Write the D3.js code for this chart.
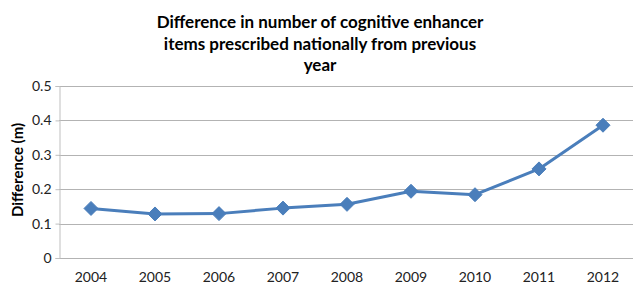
<!DOCTYPE html>
<html>
<head>
<meta charset="utf-8">
<script src="https://cdn.jsdelivr.net/npm/d3@7"></script>
<style>
  body { margin: 0; background: #fff; }
  svg { display: block; font-family: Lato, "Open Sans", sans-serif; }
</style>
</head>
<body>
<svg id="chart" width="633" height="284"></svg>
<script>
// chart data
var years = ["2004", "2005", "2006", "2007", "2008", "2009", "2010", "2011", "2012"];
var diffValues = [0.144, 0.128, 0.129, 0.145, 0.156, 0.194, 0.184, 0.259, 0.386];
var yTicks = [0, 0.1, 0.2, 0.3, 0.4, 0.5];
var titleLines = ["Difference in number of cognitive enhancer",
                  "items prescribed nationally from previous",
                  "year"];

var svg = d3.select("#chart");
var margin = { top: 86, right: -2, bottom: 26, left: 59 };
var width = 633, height = 284;

var x = d3.scaleBand()
  .domain(years)
  .range([margin.left, width - margin.right]);

var y = d3.scaleLinear()
  .domain([0, 0.5])
  .range([height - margin.bottom, margin.top]);

// title
svg.append("g").selectAll("text")
  .data(titleLines)
  .enter().append("text")
  .attr("x", 320)
  .attr("y", (d, i) => 28 + i * 21.5)
  .attr("text-anchor", "middle")
  .style("font-size", "17px")
  .style("font-weight", "bold")
  .style("fill", "#000")
  .text(d => d);

// gridlines
svg.append("g").selectAll("line")
  .data(yTicks)
  .enter().append("line")
  .attr("x1", margin.left)
  .attr("x2", width)
  .attr("y1", d => Math.round(y(d)) + 0.5)
  .attr("y2", d => Math.round(y(d)) + 0.5)
  .style("stroke", "#b3b3b3")
  .style("stroke-width", 1);

// y axis
var yAxis = d3.axisLeft(y)
  .tickValues(yTicks)
  .tickSize(4)
  .tickPadding(4)
  .tickFormat(d => d === 0 ? "0" : d3.format(".1f")(d));

svg.append("g")
  .attr("transform", `translate(${margin.left + 0.5},0)`)
  .call(yAxis)
  .call(g => g.select(".domain").style("stroke", "#bfbfbf"))
  .call(g => g.selectAll(".tick line").style("stroke", "#bfbfbf"))
  .call(g => g.selectAll(".tick text")
    .style("font-size", "14px")
    .style("font-family", "Lato, sans-serif")
    .style("fill", "#222"));

// x labels
svg.append("g").selectAll("text")
  .data(years)
  .enter().append("text")
  .attr("x", d => x(d) + x.bandwidth() / 2)
  .attr("y", 282)
  .attr("text-anchor", "middle")
  .style("font-size", "14px")
  .style("fill", "#222")
  .text(d => d);

// y axis title
svg.append("text")
  .attr("transform", "translate(23,170) rotate(-90)")
  .attr("text-anchor", "middle")
  .style("font-size", "15px")
  .style("font-weight", "bold")
  .style("fill", "#000")
  .text("Difference (m)");

// line
var points = years.map((yr, i) => ({ year: yr, value: diffValues[i] }));
var valueline = d3.line()
  .x(d => x(d.year) + x.bandwidth() / 2)
  .y(d => y(d.value));

svg.append("path")
  .datum(points)
  .attr("d", valueline)
  .style("fill", "none")
  .style("stroke", "#4a7ebb")
  .style("stroke-width", 3)
  .style("stroke-linejoin", "round");

// diamond markers
svg.append("g").selectAll("path")
  .data(points)
  .enter().append("path")
  .attr("transform", d => `translate(${x(d.year) + x.bandwidth() / 2},${y(d.value)})`)
  .attr("d", "M0,-7L7,0L0,7L-7,0Z")
  .style("fill", "#4a7ebb")
  .style("stroke", "#4a7ebb")
  .style("stroke-width", 1);
</script>
</body>
</html>
